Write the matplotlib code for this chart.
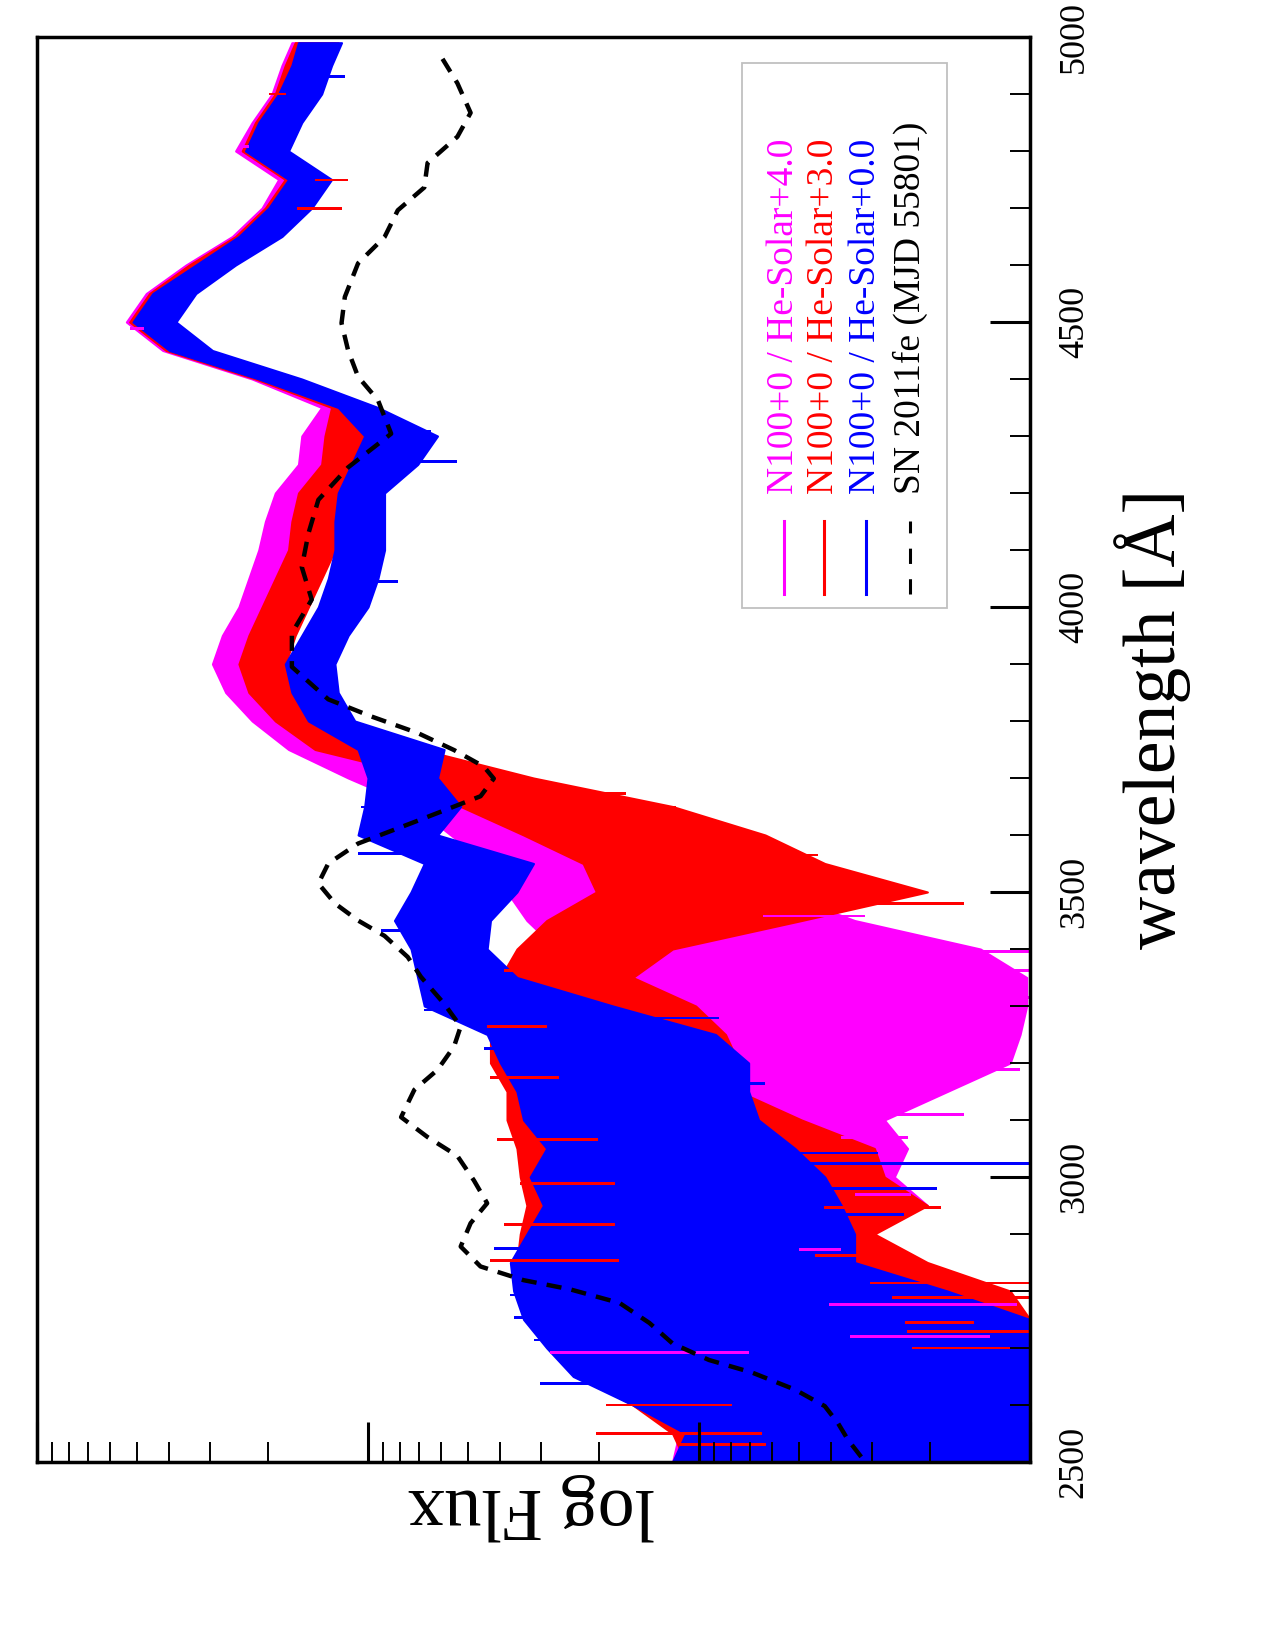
import numpy as np
import matplotlib
matplotlib.use('Agg')
import matplotlib.pyplot as plt
from matplotlib.ticker import LogLocator, MultipleLocator, NullFormatter
from matplotlib.patches import Rectangle
from matplotlib.lines import Line2D

plt.rcParams['font.family'] = ['Liberation Serif', 'DejaVu Serif']

# wavelength grid of the model spectra [A]
wave = [2500, 2550, 2600, 2650, 2700, 2750, 2800, 2850, 2900, 2950,
        3000, 3050, 3100, 3150, 3200, 3250, 3300, 3350, 3400, 3450,
        3500, 3550, 3600, 3650, 3700, 3750, 3800, 3850, 3900, 3950,
        4000, 4050, 4100, 4150, 4200, 4250, 4300, 4350, 4400, 4450,
        4500, 4550, 4600, 4650, 4700, 4750, 4800, 4850, 4900, 4950, 4990]

# noisy model spectra: upper and lower edge of the band, log10 flux
mag_hi = [0.08, 0.06, 0.04, 0.01, 0.01, 0.04, 0.08, 0.08, 0.08, 0.08,
          0.04, 0.08, 0.11, 0.11, 0.14, 0.20, 0.30, 0.33, 0.43, 0.52,
          0.58, 0.64, 0.75, 0.86, 1.06, 1.24, 1.35, 1.43, 1.47, 1.44,
          1.39, 1.36, 1.33, 1.31, 1.28, 1.21, 1.20, 1.14, 1.35, 1.62,
          1.73, 1.67, 1.55, 1.41, 1.32, 1.27, 1.40, 1.35, 1.29, 1.26, 1.23]
mag_lo = [-0.85, -0.82, -0.75, -0.69, -0.63, -0.59, -0.50, -0.43, -0.43, -0.69,
          -0.59, -0.63, -0.56, -0.75, -0.94, -0.97, -0.99, -0.99, -0.85, -0.47,
          -0.24, 0.08, 0.26, 0.57, 0.77, 1.05, 1.21, 1.29, 1.33, 1.30,
          1.25, 1.22, 1.19, 1.17, 1.14, 1.09, 1.07, 1.02, 1.23, 1.49,
          1.61, 1.55, 1.42, 1.28, 1.20, 1.14, 1.27, 1.22, 1.16, 1.13, 1.10]

red_hi = [0.04, 0.08, 0.20, 0.36, 0.43, 0.52, 0.54, 0.55, 0.54, 0.52,
          0.54, 0.55, 0.58, 0.58, 0.63, 0.63, 0.63, 0.60, 0.55, 0.46,
          0.31, 0.35, 0.53, 0.72, 0.81, 1.16, 1.28, 1.36, 1.39, 1.36,
          1.32, 1.28, 1.24, 1.23, 1.21, 1.14, 1.13, 1.11, 1.34, 1.61,
          1.72, 1.66, 1.54, 1.40, 1.31, 1.25, 1.38, 1.34, 1.28, 1.25, 1.22]
red_lo = [-1.00, -1.00, -1.00, -1.00, -1.00, -1.00, -0.94, -0.69, -0.53, -0.69,
          -0.56, -0.53, -0.31, -0.12, -0.12, -0.08, 0.01, 0.20, 0.08, -0.31,
          -0.69, -0.38, -0.20, 0.08, 0.50, 0.84, 1.14, 1.22, 1.25, 1.22,
          1.18, 1.14, 1.10, 1.09, 1.09, 1.02, 1.00, 0.98, 1.21, 1.48,
          1.59, 1.53, 1.41, 1.27, 1.18, 1.13, 1.26, 1.21, 1.15, 1.12, 1.09]

blue_hi = [0.08, 0.04, 0.20, 0.38, 0.46, 0.53, 0.56, 0.57, 0.52, 0.47,
           0.51, 0.46, 0.53, 0.55, 0.60, 0.64, 0.83, 0.85, 0.87, 0.92,
           0.87, 0.83, 1.03, 1.01, 1.00, 1.03, 1.18, 1.23, 1.25, 1.20,
           1.15, 1.12, 1.10, 1.10, 1.09, 1.05, 1.01, 1.09, 1.33, 1.60,
           1.71, 1.65, 1.52, 1.39, 1.30, 1.24, 1.37, 1.33, 1.27, 1.23, 1.21]
blue_lo = [-1.00, -1.00, -1.00, -1.00, -1.00, -1.00, -0.75, -0.47, -0.47, -0.43,
           -0.38, -0.29, -0.18, -0.15, -0.15, -0.05, 0.26, 0.55, 0.64, 0.63,
           0.55, 0.50, 0.79, 0.72, 0.79, 0.77, 1.04, 1.09, 1.10, 1.06,
           1.00, 0.97, 0.95, 0.95, 0.95, 0.85, 0.79, 0.97, 1.20, 1.47,
           1.58, 1.52, 1.40, 1.26, 1.17, 1.11, 1.24, 1.20, 1.14, 1.11, 1.08]

# strongest single noise spikes: wavelength and log10 flux at the tip
mag_spike_w = [2692, 2720, 2776, 2873, 2969, 3070, 3110, 3173, 3188, 3315,
               3363, 3395, 3425, 3458, 3878, 4058, 4173, 4489, 4808]
mag_spike_f = [0.45, -0.88, -0.96, -0.43, -0.64, -0.63, -0.80, -0.69, -0.97, -1.00,
               -1.00, -1.00, -0.62, -0.50, 1.44, 1.34, 1.29, 1.72, 1.38]
red_spike_w = [2530, 2550, 2600, 2700, 2729, 2744, 2788, 2814, 2854, 2862,
               2917, 2946, 2989, 3066, 3175, 3264, 3363, 3480, 3508, 3528,
               3565, 3585, 3618, 3649, 3673, 4699, 4749, 4900]
red_spike_f = [0.06, 0.31, 0.28, -1.00, -1.00, -0.83, -1.00, -1.00, 0.63, -0.50,
               0.59, -0.73, 0.54, 0.61, 0.63, 0.64, 0.59, -0.80, -0.45, -0.41,
               -0.36, -0.20, 0.02, 0.07, 0.22, 1.08, 1.06, 1.30]
blue_spike_w = [2638, 2714, 2753, 2793, 2875, 2934, 2980, 3024, 3042, 3164,
                3210, 3225, 3279, 3293, 3433, 3469, 3568, 3649, 4044, 4255,
                4308, 4930]
blue_spike_f = [0.48, 0.50, 0.56, 0.57, 0.62, -0.62, -0.72, -1.00, -0.54, -0.20,
                -0.09, 0.65, -0.06, 0.83, 0.96, 0.89, 1.03, 1.02, 0.91, 0.73,
                0.81, 1.07]

# observed SN 2011fe spectrum
sn_w = [2509, 2539, 2568, 2598, 2627, 2657, 2679, 2708, 2744, 2779,
        2803, 2819, 2843, 2878, 2919, 2954, 2994, 3037, 3070, 3105,
        3153, 3188, 3229, 3264, 3304, 3351, 3386, 3423, 3450, 3480,
        3515, 3550, 3585, 3625, 3668, 3699, 3720, 3749, 3779, 3808,
        3838, 3895, 3954, 4013, 4070, 4129, 4188, 4245, 4304, 4363,
        4404, 4450, 4498, 4544, 4603, 4649, 4696, 4736, 4779, 4825,
        4867, 4919, 4976]
sn_f = [-0.49, -0.45, -0.42, -0.38, -0.29, -0.16, -0.03, 0.08, 0.15, 0.24,
        0.39, 0.53, 0.66, 0.72, 0.69, 0.64, 0.68, 0.73, 0.82, 0.90,
        0.86, 0.79, 0.74, 0.72, 0.77, 0.84, 0.88, 0.95, 1.03, 1.10,
        1.15, 1.12, 1.03, 0.85, 0.66, 0.62, 0.65, 0.74, 0.85, 0.99,
        1.12, 1.23, 1.23, 1.17, 1.20, 1.18, 1.15, 1.06, 0.93, 0.97,
        1.03, 1.06, 1.08, 1.07, 1.03, 0.95, 0.91, 0.83, 0.82, 0.73,
        0.69, 0.73, 0.79]

labels = ['N100+0 / He-Solar+4.0', 'N100+0 / He-Solar+3.0',
          'N100+0 / He-Solar+0.0', 'SN 2011fe (MJD 55801)']
colors = ['#ff00ff', '#ff0000', '#0000ff', 'black']

fig = plt.figure(figsize=(12.75, 16.5), dpi=100)
ax = fig.add_axes([37 / 1275, 1 - 1462 / 1650, 993 / 1275, 1425 / 1650])

w = np.array(wave)
models = [(mag_hi, mag_lo, mag_spike_w, mag_spike_f),
          (red_hi, red_lo, red_spike_w, red_spike_f),
          (blue_hi, blue_lo, blue_spike_w, blue_spike_f)]
for (hi, lo, sw, sf), c in zip(models, colors[:3]):
    hi = np.array(hi)
    lo = np.array(lo)
    ax.fill_betweenx(w, 10 ** lo, 10 ** hi, facecolor=c, edgecolor=c, lw=1.5)
for (hi, lo, sw, sf), c in zip(models, colors[:3]):
    # spikes leave the band a little inside its edge on the side they point to
    hi_s = np.interp(sw, w, hi)
    lo_s = np.interp(sw, w, lo)
    sf = np.array(sf)
    base = np.where(sf < (hi_s + lo_s) / 2, lo_s + 0.25 * (hi_s - lo_s),
                    hi_s - 0.25 * (hi_s - lo_s))
    ax.barh(sw, 10 ** sf - 10 ** base, left=10 ** base, height=5,
            color=c, lw=0, zorder=1.5)

ax.plot(10 ** np.array(sn_f), sn_w, color='black', lw=3.2, dashes=(3.4, 2.3),
        zorder=3)

ax.set_xscale('log')
ax.set_xlim(100, 0.1)
ax.set_ylim(2500, 5000)

ax.xaxis.set_major_locator(LogLocator(base=10))
ax.xaxis.set_minor_locator(LogLocator(base=10, subs=np.arange(2, 10)))
ax.xaxis.set_major_formatter(NullFormatter())
ax.xaxis.set_minor_formatter(NullFormatter())
ax.tick_params(axis='x', which='both', bottom=True, top=False,
               labelbottom=False, direction='in')
ax.tick_params(axis='x', which='major', length=29, width=2.2)
ax.tick_params(axis='x', which='minor', length=14.5, width=1.4)

ax.yaxis.tick_right()
ax.set_yticks([2500, 3000, 3500, 4000, 4500, 5000])
ax.yaxis.set_minor_locator(MultipleLocator(100))
ax.tick_params(axis='y', which='both', left=False, right=True,
               labelleft=False, labelright=True, direction='in')
ax.tick_params(axis='y', which='major', length=29, width=2.2, pad=20,
               labelsize=26, labelrotation=90)
ax.tick_params(axis='y', which='minor', length=14.5, width=1.4)
for t in ax.get_yticklabels():
    t.set_va('center')

for s in ax.spines.values():
    s.set_linewidth(2.5)

fig.text(1153 / 1275, 1 - 719 / 1650, 'wavelength [Å]', rotation=90,
         ha='center', va='center', fontsize=53)
fig.text(531 / 1275, 1 - 1507 / 1650, 'log Flux', rotation=180,
         ha='center', va='center', fontsize=53)

# legend drawn by hand, rotated like the rest of the figure
fig.add_artist(Rectangle((742 / 1275, 1 - 608 / 1650), 205 / 1275, 545 / 1650,
                         transform=fig.transFigure, facecolor='white',
                         edgecolor='#c0c0c0', lw=1.3, zorder=5))
cols = [784, 824, 866, 910]
for x, lab, c in zip(cols, labels, colors):
    ls = '-' if c != 'black' else (0, (5, 5))
    fig.add_artist(Line2D([x / 1275, x / 1275], [1 - 594 / 1650, 1 - 521 / 1650],
                          transform=fig.transFigure, color=c, lw=2.2,
                          linestyle=ls, zorder=6))
    fig.text(x / 1275, 1 - 494 / 1650, lab, rotation=90, ha='center',
             va='bottom', color=c, fontsize=27, zorder=6)

fig.savefig('out.png', dpi=100)
